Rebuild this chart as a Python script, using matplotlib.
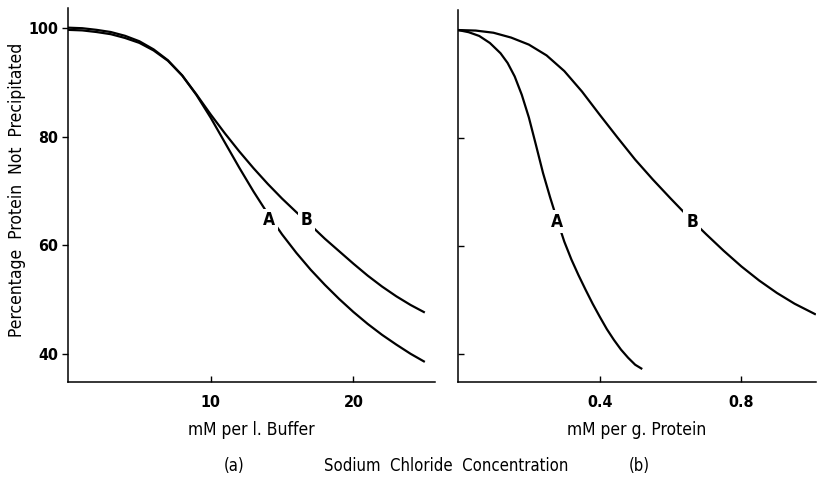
import numpy as np
import matplotlib
matplotlib.use('Agg')
import matplotlib.pyplot as plt

# Panel (a): mM NaCl per l. buffer
buf_A_x = [0, 1, 2, 3, 4, 5, 6, 7, 8, 9, 10, 11, 12, 13, 14, 15, 16, 17, 18, 19, 20, 21, 22, 23, 24, 25]
buf_A_y = [100.1, 100.0, 99.7, 99.3, 98.6, 97.6, 96.1, 94.1, 91.3, 87.7, 83.5, 78.9, 74.3, 69.9, 65.8, 62.0, 58.6, 55.5, 52.7, 50.1, 47.7, 45.5, 43.5, 41.7, 40.0, 38.5]
buf_B_x = [0, 1, 2, 3, 4, 5, 6, 7, 8, 9, 10, 11, 12, 13, 14, 15, 16, 17, 18, 19, 20, 21, 22, 23, 24, 25]
buf_B_y = [99.7, 99.6, 99.3, 98.9, 98.2, 97.3, 95.9, 94.0, 91.3, 87.8, 84.1, 80.6, 77.3, 74.2, 71.3, 68.6, 66.1, 63.7, 61.2, 58.9, 56.6, 54.4, 52.4, 50.6, 49.0, 47.6]

# Panel (b): mM NaCl per g. protein
prot_A_x = [0, 0.03, 0.06, 0.09, 0.12, 0.14, 0.16, 0.18, 0.2, 0.22, 0.24, 0.26, 0.28, 0.3, 0.32, 0.34, 0.36, 0.38, 0.4, 0.42, 0.44, 0.46, 0.48, 0.5, 0.52]
prot_A_y = [100, 99.6, 98.9, 97.6, 95.7, 93.9, 91.4, 88.0, 83.8, 78.7, 73.5, 69.0, 64.8, 60.8, 57.5, 54.6, 51.9, 49.3, 46.9, 44.6, 42.6, 40.8, 39.3, 38.0, 37.2]
prot_B_x = [0, 0.05, 0.1, 0.15, 0.2, 0.25, 0.3, 0.35, 0.4, 0.45, 0.5, 0.55, 0.6, 0.65, 0.7, 0.75, 0.8, 0.85, 0.9, 0.95, 1.01]
prot_B_y = [100, 99.9, 99.5, 98.6, 97.3, 95.3, 92.4, 88.6, 84.3, 80.1, 76.0, 72.3, 68.8, 65.4, 62.2, 59.1, 56.2, 53.6, 51.3, 49.3, 47.3]

y_ticks = [40, 60, 80, 100]
buf_ticks = [10, 20]
prot_ticks = [0.4, 0.8]
prot_tick_labels = ['0.4', '0.8']

plt.rcParams['font.family'] = ['DejaVu Sans']
plt.rcParams['font.stretch'] = 'condensed'

fig = plt.figure(figsize=(8.17, 4.79), dpi=100)
ax1 = fig.add_axes([0.0832, 0.2025, 0.449, 0.7805])
ax2 = fig.add_axes([0.5606, 0.2025, 0.4380, 0.7765])

lw = 1.6
ax1.plot(buf_A_x, buf_A_y, color='black', lw=lw, solid_capstyle='butt')
ax1.plot(buf_B_x, buf_B_y, color='black', lw=lw, solid_capstyle='butt')
ax2.plot(prot_A_x, prot_A_y, color='black', lw=lw, solid_capstyle='butt')
ax2.plot(prot_B_x, prot_B_y, color='black', lw=lw, solid_capstyle='butt')

# curve labels break the lines
lab = dict(fontsize=12.5, fontweight='bold', ha='center', va='center',
           bbox=dict(facecolor='white', edgecolor='none', pad=2))
ax1.text(14.1, 64.6, 'A', **lab)
ax1.text(16.7, 64.6, 'B', **lab)
ax2.text(0.278, 64.5, 'A', **lab)
ax2.text(0.661, 64.5, 'B', **lab)

ax1.set_xlim(0, 25.7)
ax2.set_xlim(0, 1.01)
for ax in (ax1, ax2):
    ax.set_ylim(34.8, 103.7)
    ax.spines['top'].set_visible(False)
    ax.spines['right'].set_visible(False)
    ax.spines['left'].set_linewidth(1.1)
    ax.spines['bottom'].set_linewidth(1.1)
    ax.set_yticks(y_ticks)
    ax.tick_params(axis='x', direction='in', length=4, width=1, pad=9, labelsize=11.5)

ax1.set_xticks(buf_ticks)
ax1.set_xticklabels([str(t) for t in buf_ticks], fontweight='bold')
ax1.set_yticklabels([str(t) for t in y_ticks], fontweight='bold')
ax1.tick_params(axis='y', direction='out', length=4, width=1, pad=3, labelsize=11.5)

ax2.set_xticks(prot_ticks)
ax2.set_xticklabels(prot_tick_labels, fontweight='bold')
ax2.tick_params(axis='y', direction='in', length=4, width=1, labelleft=False)

ax1.set_xlabel('mM per l. Buffer', fontsize=12.5, labelpad=8)
ax2.set_xlabel('mM per g. Protein', fontsize=12.5, labelpad=8)
fig.text(17 / 817, 1 - 190 / 479, 'Percentage  Protein  Not  Precipitated', fontsize=12.5,
         rotation=90, ha='center', va='center')

fig.text(234 / 817, 1 - 466 / 479, '(a)', fontsize=12, ha='center', va='center')
fig.text(446 / 817, 1 - 466 / 479, 'Sodium  Chloride  Concentration', fontsize=12, ha='center', va='center')
fig.text(639 / 817, 1 - 466 / 479, '(b)', fontsize=12, ha='center', va='center')

fig.savefig('out.png', dpi=100)
plt.close()
